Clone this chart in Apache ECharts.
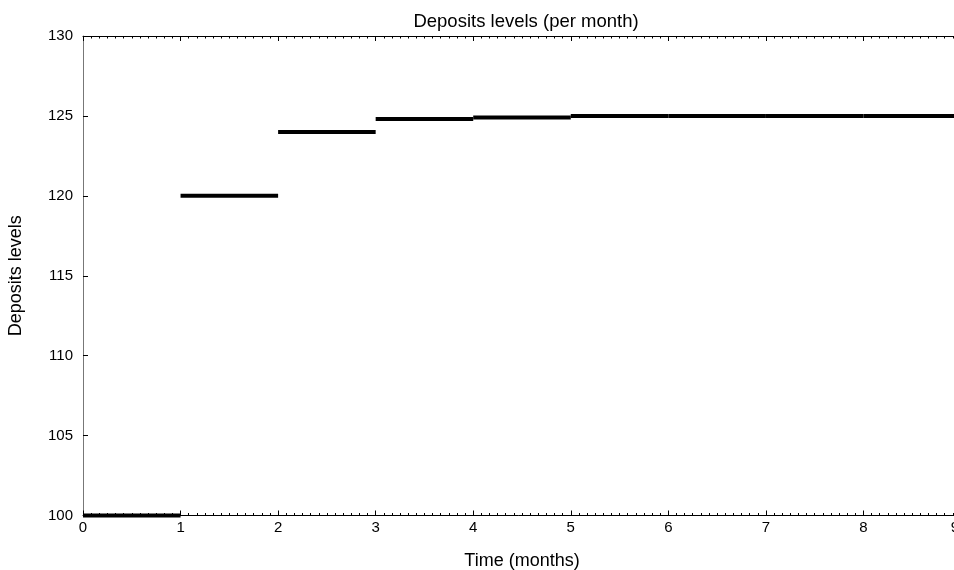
<!DOCTYPE html>
<html>
<head>
<meta charset="utf-8">
<script src="https://cdn.jsdelivr.net/npm/echarts@6/dist/echarts.min.js"></script>
<style>
html,body{margin:0;padding:0;background:#fff;}
#chart{width:954px;height:570px;}
</style>
</head>
<body>
<div id="chart"></div>
<script>
// Month segments: each level holds from start month to end month
var segStart = [0, 1, 2, 3, 4, 5, 6, 7, 8];
var segEnd   = [1, 2, 3, 4, 5, 6, 7, 8, 9];
var depositLevels = [100, 120, 124, 124.8, 124.9, 125, 125, 125, 125];
var titleText = 'Deposits levels (per month)';
var xName = 'Time (months)';
var yName = 'Deposits levels';

var segData = segStart.map(function (s, i) { return [s, segEnd[i], depositLevels[i]]; });

var FONT = 'Liberation Sans, Arial, Helvetica, sans-serif';
var chart = echarts.init(document.getElementById('chart'), null, {renderer: 'canvas'});

var tickCommon = {
  show: true, inside: true, length: 5,
  lineStyle: {color: '#000', width: 1}
};
var minorCommon = {
  show: true, splitNumber: 12, length: 2.5,
  lineStyle: {color: '#000', width: 1}
};

chart.setOption({
  animation: false,
  backgroundColor: '#fff',
  title: {
    text: titleText, left: 521, top: 7, textAlign: 'center',
    textStyle: {fontFamily: FONT, fontSize: 18.5, fontWeight: 'normal', color: '#000'}
  },
  grid: {left: 83, width: 878, top: 36, height: 479.5, containLabel: false, outerBoundsMode: 'none'},
  xAxis: [{
    type: 'value', min: 0, max: 9, interval: 1, position: 'bottom',
    name: xName, nameLocation: 'middle', nameGap: 37,
    nameTextStyle: {fontFamily: FONT, fontSize: 18, color: '#000'},
    axisLine: {show: true, onZero: false, lineStyle: {color: '#000', width: 1}},
    axisTick: tickCommon,
    minorTick: minorCommon,
    axisLabel: {
      fontFamily: FONT, fontSize: 15, color: '#000', margin: 5,
      formatter: function (v) { return v === 9 ? '{edge|9}' : String(v); },
      rich: {edge: {fontFamily: FONT, fontSize: 15, color: '#000', padding: [0, 12, 0, 0]}}
    },
    splitLine: {show: false}
  }, {
    type: 'value', min: 0, max: 9, interval: 1, position: 'top',
    axisLine: {show: true, onZero: false, lineStyle: {color: '#000', width: 1}},
    axisTick: tickCommon,
    minorTick: minorCommon,
    axisLabel: {show: false},
    splitLine: {show: false}
  }],
  yAxis: [{
    type: 'value', min: 100, max: 130, interval: 5,
    name: yName, nameLocation: 'middle', nameGap: 58, nameRotate: 90,
    nameTextStyle: {fontFamily: FONT, fontSize: 18, color: '#000'},
    axisLine: {show: true, onZero: false, lineStyle: {color: '#777', width: 1}},
    axisTick: {show: true, inside: true, length: 5, lineStyle: {color: '#000', width: 1}},
    axisLabel: {fontFamily: FONT, fontSize: 15, color: '#000', margin: 10},
    splitLine: {show: false}
  }],
  series: [{
    type: 'custom',
    xAxisIndex: 0, yAxisIndex: 0,
    clip: false,
    data: segData,
    encode: {x: [0, 1], y: 2},
    renderItem: function (params, api) {
      var p0 = api.coord([api.value(0), api.value(2)]);
      var p1 = api.coord([api.value(1), api.value(2)]);
      return {
        type: 'line',
        shape: {x1: p0[0], y1: p0[1], x2: p1[0], y2: p1[1]},
        style: {stroke: '#000', lineWidth: 4, lineCap: 'butt'}
      };
    }
  }]
});
</script>
</body>
</html>
